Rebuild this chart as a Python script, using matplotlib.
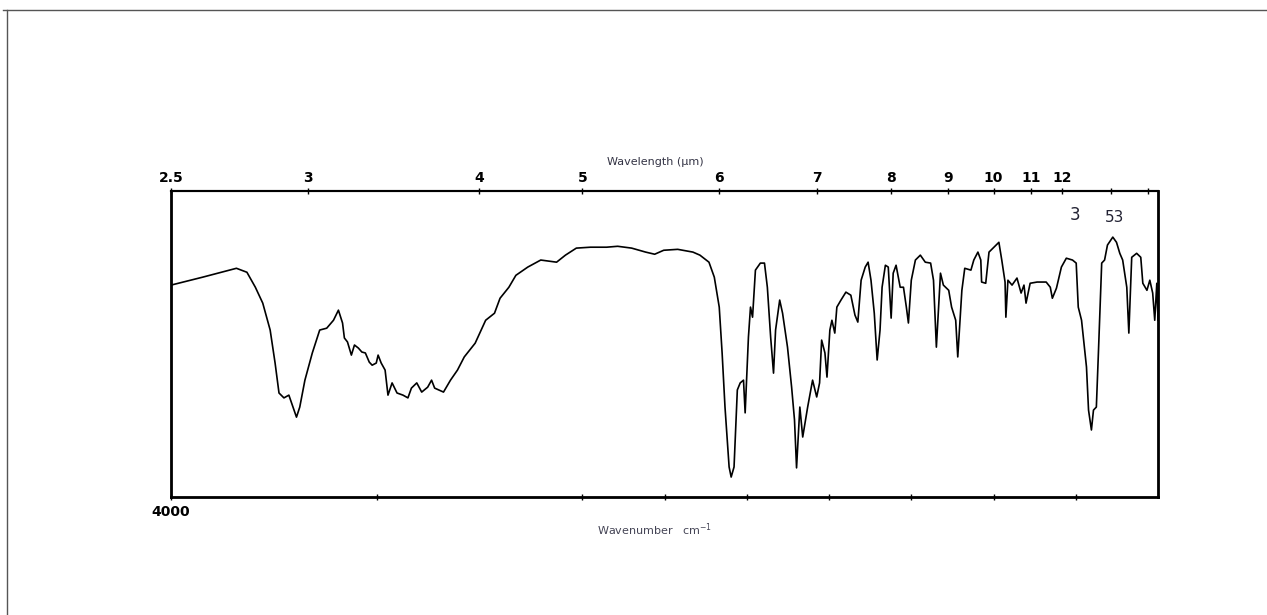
import numpy as np
import matplotlib.pyplot as plt
from matplotlib.lines import Line2D

# IR spectrum (wavenumber in cm-1, transmittance in %)
wavenumber = [4000, 3846, 3682, 3631, 3590, 3554, 3518, 3494, 3475, 3451, 3427, 3407, 3390, 3374,
              3349, 3313, 3277, 3243, 3210, 3186, 3166, 3157, 3142, 3123, 3108, 3089, 3072, 3055,
              3036, 3022, 3002, 2993, 2978, 2959, 2945, 2925, 2901, 2872, 2848, 2831, 2805, 2781,
              2752, 2733, 2718, 2675, 2641, 2607, 2574, 2521, 2470, 2427, 2400, 2357, 2323, 2265,
              2202, 2125, 2082, 2029, 1980, 1941, 1914, 1880, 1846, 1824, 1802, 1768, 1731, 1714,
              1692, 1679, 1667, 1660, 1653, 1643, 1638, 1631, 1623, 1616, 1608, 1604, 1596, 1591,
              1586, 1579, 1567, 1557, 1550, 1542, 1535, 1530, 1520, 1513, 1501, 1491, 1484, 1479,
              1471, 1464, 1452, 1440, 1430, 1423, 1418, 1410, 1405, 1398, 1393, 1386, 1381, 1371,
              1359, 1347, 1337, 1330, 1322, 1312, 1305, 1298, 1290, 1283, 1276, 1271, 1263, 1256,
              1249, 1244, 1237, 1227, 1219, 1212, 1207, 1200, 1190, 1178, 1166, 1153, 1146, 1139,
              1129, 1122, 1109, 1102, 1092, 1087, 1077, 1070, 1055, 1048, 1038, 1031, 1029, 1019,
              1011, 999, 987, 980, 972, 970, 965, 955, 943, 933, 926, 921, 911, 894, 872, 862,
              857, 847, 835, 823, 808, 799, 794, 786, 781, 774, 769, 762, 757, 750, 745, 737,
              730, 723, 710, 701, 693, 686, 676, 671, 664, 652, 642, 637, 627, 620, 613, 608,
              603, 600]
transmittance = [69.3, 71.9, 74.8, 73.5, 68.6, 63.4, 54.6, 43.8, 34.0, 32.4, 33.3, 29.4, 26.1, 29.4,
                 38.2, 47.1, 54.6, 55.2, 57.8, 61.1, 56.9, 52.0, 50.7, 46.4, 49.7, 48.7, 47.4, 47.1,
                 44.1, 43.1, 43.8, 46.4, 43.8, 41.5, 33.3, 37.3, 34.0, 33.3, 32.4, 35.6, 37.3, 34.3,
                 35.9, 38.2, 35.6, 34.3, 38.2, 41.5, 45.8, 50.3, 57.8, 60.1, 65.0, 68.6, 72.5, 75.2,
                 77.5, 76.8, 79.1, 81.4, 81.7, 81.7, 82.0, 81.4, 80.1, 79.4, 80.7, 81.0, 80.1, 79.1,
                 76.8, 71.9, 62.1, 47.1, 29.4, 9.8, 6.5, 9.8, 35.0, 37.3, 38.2, 27.5, 52.3, 62.1,
                 58.8, 74.2, 76.5, 76.5, 68.6, 52.3, 40.5, 54.6, 64.4, 60.1, 49.0, 35.9, 25.2, 9.5,
                 29.4, 19.6, 29.4, 38.2, 32.7, 37.3, 51.3, 47.1, 39.2, 54.6, 57.8, 53.6, 62.1, 64.4,
                 67.0, 66.0, 59.5, 57.2, 70.9, 75.2, 76.8, 70.9, 60.1, 44.8, 54.6, 68.6, 75.8, 75.2,
                 58.5, 73.2, 75.8, 68.6, 68.6, 62.1, 56.9, 70.9, 77.5, 79.1, 76.8, 76.5, 70.9, 49.0,
                 73.2, 69.3, 67.6, 62.1, 57.8, 45.8, 67.6, 74.8, 74.2, 77.5, 80.1, 77.5, 70.3, 69.9,
                 80.1, 81.7, 83.3, 77.5, 70.3, 58.8, 70.9, 69.3, 71.6, 66.7, 69.3, 63.4, 69.9, 70.3, 70.3, 68.6,
                 65.0, 68.3, 75.2, 78.1, 77.5, 76.5, 62.1, 57.8, 51.3, 42.5, 28.4, 21.9, 28.4, 29.4, 47.1, 76.5,
                 77.5, 82.4, 85.0, 83.3, 79.7, 77.5, 68.6, 53.6, 78.4, 79.7, 78.4, 69.9, 67.6, 70.9, 66.7, 57.8,
                 69.9, 57.8]

bottom_ticks = [4000, 3000, 2000, 1800, 1600, 1400, 1200, 1000, 800]
wavelength_ticks = [2.5, 3, 4, 5, 6, 7, 8, 9, 10, 11, 12, 14, 16]
wavelength_labels = ['2.5', '3', '4', '5', '6', '7', '8', '9', '10', '11', '12', '', '']


# chart paper: 4000-2000 cm-1 at half the scale of 2000-600 cm-1
def fwd(w):
    w = np.asarray(w, dtype=float)
    return np.where(w >= 2000, 0.5 * (w - 2000), w - 2000)


def inv(u):
    u = np.asarray(u, dtype=float)
    return np.where(u >= 0, 2000 + 2 * u, 2000 + u)


fig = plt.figure(figsize=(12.67, 6.15), dpi=100)
ax = fig.add_axes([0.135, 0.192, 0.779, 0.497])

ax.plot(wavenumber, transmittance, color='black', lw=1.2)
ax.set_xscale('function', functions=(fwd, inv))
ax.set_xlim(4000, 600)
ax.set_ylim(0, 100)
ax.set_yticks([])

ax.set_xticks(bottom_ticks)
ax.set_xticklabels(['4000'] + [''] * (len(bottom_ticks) - 1), fontsize=10, fontweight='bold')
ax.tick_params(axis='x', direction='inout', length=5, width=1, pad=3)
ax.xaxis.set_minor_locator(plt.NullLocator())

for side in ['left', 'right', 'bottom']:
    ax.spines[side].set_linewidth(2)
ax.spines['top'].set_linewidth(1.5)

top = ax.twiny()
top.set_xscale('function', functions=(fwd, inv))
top.set_xlim(4000, 600)
top.set_xticks([10000 / w for w in wavelength_ticks])
top.set_xticklabels(wavelength_labels, fontsize=10, fontweight='bold')
top.xaxis.set_minor_locator(plt.NullLocator())
top.tick_params(axis='x', direction='inout', length=5, width=1, pad=2)
top.set_yticks([])
top.spines['top'].set_linewidth(1.5)

fig.text(0.517, 0.737, 'Wavelength (\u03bcm)', ha='center', va='center', fontsize=8, color='#333344')
fig.text(0.517, 0.138, 'Wavenumber   cm$^{-1}$', ha='center', va='center', fontsize=8, color='#444455')

ax.text(801, 92.2, '3', ha='center', va='center', fontsize=12, color='#222233')
ax.text(706, 91.5, '53', ha='center', va='center', fontsize=11, color='#222233')

# frame of the scanned page
fig.add_artist(Line2D([0.0055, 0.0055], [0, 0.984], color='#555555', lw=1))
fig.add_artist(Line2D([0.002, 1], [0.984, 0.984], color='#555555', lw=1))

fig.savefig('out.png', dpi=100)
